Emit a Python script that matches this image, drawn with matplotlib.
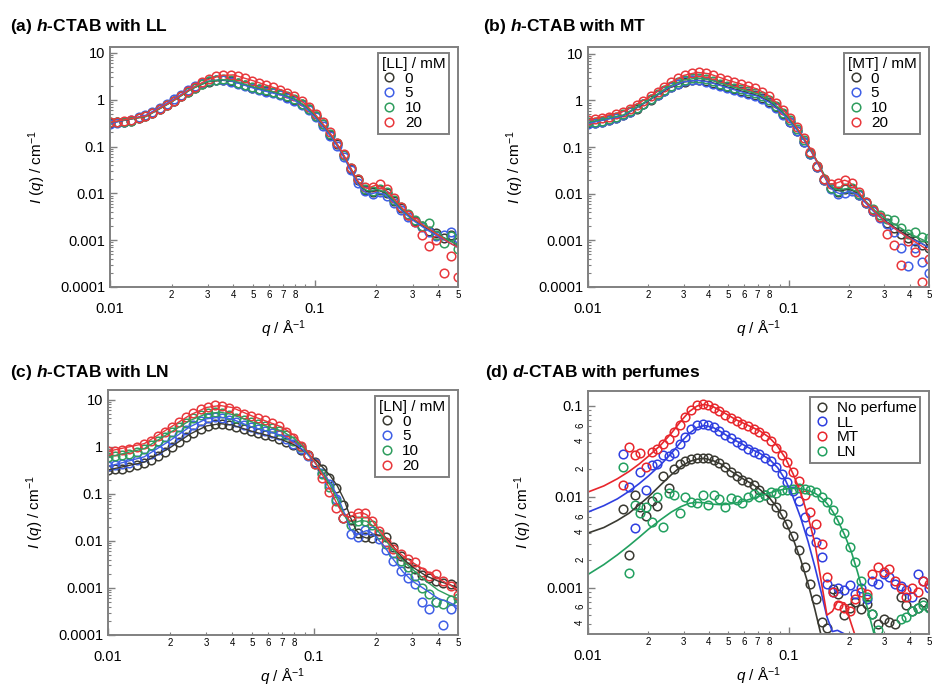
import numpy as np
import matplotlib
matplotlib.use("Agg")
import matplotlib.pyplot as plt
from matplotlib.ticker import LogLocator, FuncFormatter, NullFormatter
from matplotlib.lines import Line2D

plt.rcParams['font.family'] = ['Liberation Sans', 'DejaVu Sans']
plt.rcParams['mathtext.fontset'] = 'custom'
plt.rcParams['mathtext.rm'] = 'Liberation Sans'
plt.rcParams['mathtext.it'] = 'Liberation Sans:italic'
plt.rcParams['mathtext.bf'] = 'Liberation Sans:bold'
plt.rcParams['mathtext.bfit'] = 'Liberation Sans:italic:bold'

# ---- data: h-CTAB panels (a)-(c), q in 1/A, I in 1/cm ----
q_abc = [0.0100, 0.0108, 0.0117, 0.0127, 0.0138, 0.0149, 0.0161, 0.0175, 0.0189, 0.0205,
         0.0222, 0.0240, 0.0260, 0.0282, 0.0305, 0.0331, 0.0358, 0.0388, 0.0420, 0.0455,
         0.0493, 0.0534, 0.0578, 0.0626, 0.0678, 0.0734, 0.0795, 0.0861, 0.0933, 0.1010,
         0.1094, 0.1185, 0.1284, 0.1390, 0.1506, 0.1631, 0.1766, 0.1913, 0.2072, 0.2244,
         0.2431, 0.2633, 0.2852, 0.3089, 0.3345, 0.3623, 0.3924, 0.4250, 0.4604, 0.4986]

conc_labels = ['0', '5', '10', '20']

# (a) LL
a_0 = [0.32, 0.33, 0.34, 0.36, 0.40, 0.45, 0.52, 0.62, 0.76, 0.95,
       1.18, 1.48, 1.82, 2.15, 2.45, 2.62, 2.62, 2.48, 2.25, 2.02,
       1.82, 1.68, 1.56, 1.44, 1.32, 1.17, 1.00, 0.82, 0.63, 0.45,
       0.30, 0.18, 0.115, 0.066, 0.034, 0.019, 0.012, 0.0105, 0.012, 0.010,
       0.0069, 0.0048, 0.0034, 0.0026, 0.0020, 0.0016, 0.0014, 0.0011, 0.0013, 0.0009]
a_5 = [0.31, 0.32, 0.34, 0.37, 0.42, 0.48, 0.56, 0.67, 0.82, 1.02,
       1.28, 1.60, 1.95, 2.30, 2.55, 2.70, 2.65, 2.45, 2.20, 1.95,
       1.75, 1.61, 1.49, 1.37, 1.25, 1.10, 0.94, 0.77, 0.59, 0.42,
       0.28, 0.17, 0.105, 0.060, 0.031, 0.017, 0.011, 0.0095, 0.0105, 0.0090,
       0.0063, 0.0044, 0.0032, 0.0024, 0.0019, 0.0015, 0.0012, 0.0013, 0.0015, 0.0011]
a_10 = [0.33, 0.33, 0.34, 0.36, 0.40, 0.45, 0.52, 0.62, 0.76, 0.95,
        1.18, 1.48, 1.82, 2.18, 2.50, 2.70, 2.72, 2.58, 2.33, 2.08,
        1.88, 1.73, 1.60, 1.48, 1.35, 1.20, 1.02, 0.83, 0.64, 0.46,
        0.31, 0.19, 0.118, 0.067, 0.035, 0.020, 0.0125, 0.011, 0.0125, 0.0105,
        0.0072, 0.0050, 0.0036, 0.0027, 0.0020, 0.0023, 0.0013, 0.00085, 0.0012, 0.00065]
a_20 = [0.33, 0.34, 0.35, 0.37, 0.41, 0.46, 0.53, 0.63, 0.77, 0.96,
        1.20, 1.52, 1.90, 2.35, 2.80, 3.20, 3.45, 3.45, 3.20, 2.85,
        2.50, 2.25, 2.05, 1.85, 1.65, 1.42, 1.18, 0.92, 0.70, 0.50,
        0.33, 0.20, 0.12, 0.068, 0.035, 0.020, 0.0135, 0.0135, 0.0155, 0.0125,
        0.0080, 0.0050, 0.0035, 0.0024, 0.0013, 0.00075, 0.0010, 0.00020, 0.00045, 0.00016]

# (b) MT
b_0 = [0.33, 0.33, 0.35, 0.38, 0.42, 0.48, 0.56, 0.67, 0.82, 1.02,
       1.28, 1.58, 1.92, 2.25, 2.52, 2.70, 2.72, 2.58, 2.35, 2.10,
       1.90, 1.74, 1.60, 1.46, 1.30, 1.12, 0.92, 0.71, 0.51, 0.35,
       0.22, 0.13, 0.070, 0.037, 0.020, 0.013, 0.011, 0.0125, 0.0125, 0.0095,
       0.0063, 0.0043, 0.0031, 0.0023, 0.0018, 0.0014, 0.0011, 0.00095, 0.0008, 0.0007]
b_5 = [0.32, 0.33, 0.35, 0.38, 0.42, 0.48, 0.56, 0.68, 0.84, 1.05,
       1.32, 1.62, 1.97, 2.30, 2.55, 2.70, 2.68, 2.52, 2.28, 2.03,
       1.83, 1.67, 1.53, 1.40, 1.25, 1.07, 0.88, 0.68, 0.49, 0.34,
       0.22, 0.13, 0.072, 0.038, 0.020, 0.0125, 0.010, 0.0105, 0.0115, 0.0092,
       0.0062, 0.0042, 0.0030, 0.0022, 0.0015, 0.0007, 0.00028, 0.0007, 0.00035, 0.0002]
b_10 = [0.34, 0.35, 0.37, 0.40, 0.44, 0.50, 0.58, 0.70, 0.86, 1.07,
        1.35, 1.68, 2.05, 2.45, 2.78, 2.98, 3.00, 2.85, 2.58, 2.30,
        2.07, 1.89, 1.74, 1.59, 1.42, 1.22, 1.00, 0.77, 0.55, 0.38,
        0.24, 0.14, 0.076, 0.040, 0.021, 0.0135, 0.0115, 0.013, 0.013, 0.0100,
        0.0068, 0.0047, 0.0035, 0.0029, 0.0027, 0.0018, 0.0014, 0.0015, 0.0012, 0.0011]
b_20 = [0.38, 0.40, 0.42, 0.45, 0.50, 0.57, 0.66, 0.80, 0.98, 1.22,
        1.55, 1.95, 2.45, 3.00, 3.50, 3.90, 4.05, 3.90, 3.50, 3.05,
        2.70, 2.45, 2.25, 2.05, 1.82, 1.55, 1.22, 0.90, 0.62, 0.42,
        0.27, 0.155, 0.080, 0.040, 0.021, 0.016, 0.017, 0.0195, 0.017, 0.011,
        0.0068, 0.0045, 0.0032, 0.0014, 0.0008, 0.00030, 0.00095, 0.00055, 0.00013, 0.00040]

# (c) LN
c_0 = [0.32, 0.33, 0.34, 0.37, 0.41, 0.46, 0.53, 0.64, 0.78, 0.98,
       1.24, 1.58, 1.98, 2.42, 2.80, 3.05, 3.08, 2.90, 2.62, 2.35,
       2.12, 1.95, 1.80, 1.65, 1.48, 1.28, 1.06, 0.85, 0.65, 0.48,
       0.34, 0.22, 0.13, 0.058, 0.028, 0.015, 0.012, 0.0115, 0.014, 0.012,
       0.0075, 0.0048, 0.0034, 0.0025, 0.0019, 0.0016, 0.0014, 0.0013, 0.0012, 0.0011]
c_5 = [0.38, 0.40, 0.42, 0.46, 0.52, 0.60, 0.71, 0.87, 1.08, 1.38,
       1.78, 2.30, 2.90, 3.50, 4.00, 4.25, 4.15, 3.75, 3.30, 2.90,
       2.60, 2.37, 2.18, 1.98, 1.74, 1.46, 1.16, 0.88, 0.63, 0.44,
       0.28, 0.16, 0.078, 0.030, 0.014, 0.012, 0.017, 0.016, 0.011, 0.0065,
       0.0038, 0.0023, 0.0016, 0.0012, 0.0005, 0.00035, 0.00050, 0.00016, 0.00035, 0.00045]
c_10 = [0.60, 0.62, 0.65, 0.70, 0.78, 0.90, 1.06, 1.30, 1.62, 2.05,
        2.60, 3.25, 4.00, 4.70, 5.20, 5.40, 5.20, 4.70, 4.15, 3.70,
        3.35, 3.05, 2.80, 2.50, 2.15, 1.75, 1.35, 0.98, 0.67, 0.43,
        0.26, 0.14, 0.070, 0.030, 0.022, 0.027, 0.027, 0.022, 0.014, 0.0085,
        0.0055, 0.0038, 0.0028, 0.0018, 0.0010, 0.00075, 0.0005, 0.00045, 0.00055, 0.0006]
c_20 = [0.80, 0.82, 0.85, 0.90, 1.00, 1.15, 1.35, 1.65, 2.05, 2.60,
        3.30, 4.20, 5.30, 6.30, 7.10, 7.50, 7.30, 6.60, 5.70, 5.00,
        4.50, 4.10, 3.70, 3.25, 2.70, 2.10, 1.55, 1.05, 0.68, 0.42,
        0.22, 0.11, 0.050, 0.031, 0.033, 0.040, 0.039, 0.027, 0.016, 0.0095,
        0.0068, 0.0052, 0.0042, 0.0035, 0.0022, 0.0018, 0.0020, 0.0014, 0.0011, 0.0007]

# model fits for (a)-(c)
q_fit = [0.010, 0.015, 0.020, 0.025, 0.030, 0.035, 0.040, 0.050, 0.060, 0.070,
         0.080, 0.090, 0.100, 0.110, 0.120, 0.130, 0.140, 0.150, 0.160, 0.170,
         0.180, 0.190, 0.200, 0.220, 0.240, 0.270, 0.300, 0.350, 0.400, 0.450, 0.500]
fit_a_0 = [0.32, 0.44, 0.90, 1.70, 2.42, 2.63, 2.45, 1.83, 1.50, 1.27, 1.02, 0.72, 0.46, 0.28, 0.17,
           0.10, 0.058, 0.033, 0.019, 0.013, 0.011, 0.0108, 0.0118, 0.0105, 0.0072, 0.0042, 0.0028,
           0.0018, 0.0013, 0.0010, 0.0008]
fit_a_5 = [0.31, 0.47, 0.97, 1.80, 2.50, 2.68, 2.45, 1.78, 1.45, 1.22, 0.96, 0.67, 0.43, 0.26, 0.16,
           0.095, 0.054, 0.030, 0.017, 0.012, 0.010, 0.0098, 0.0105, 0.0095, 0.0067, 0.0040, 0.0027,
           0.0017, 0.0012, 0.0009, 0.0007]
fit_a_10 = [0.33, 0.44, 0.90, 1.70, 2.45, 2.70, 2.55, 1.90, 1.55, 1.30, 1.04, 0.73, 0.47, 0.29, 0.175,
            0.103, 0.059, 0.034, 0.020, 0.0135, 0.0115, 0.0113, 0.0122, 0.0108, 0.0075, 0.0044, 0.0029,
            0.0019, 0.0013, 0.0010, 0.0008]
fit_a_20 = [0.33, 0.45, 0.92, 1.75, 2.70, 3.30, 3.40, 2.55, 1.95, 1.58, 1.20, 0.80, 0.50, 0.30, 0.18,
            0.105, 0.060, 0.034, 0.020, 0.014, 0.0128, 0.014, 0.0152, 0.0125, 0.0082, 0.0046, 0.0030,
            0.0019, 0.0013, 0.0009, 0.0007]
fit_b_0 = [0.33, 0.47, 0.98, 1.80, 2.48, 2.72, 2.53, 1.92, 1.53, 1.28, 0.95, 0.63, 0.40, 0.24, 0.14,
           0.080, 0.045, 0.025, 0.015, 0.012, 0.0115, 0.012, 0.0125, 0.0105, 0.0068, 0.0040, 0.0027,
           0.0017, 0.0012, 0.0009, 0.0007]
fit_b_5 = [0.32, 0.47, 1.00, 1.85, 2.52, 2.70, 2.48, 1.85, 1.47, 1.23, 0.91, 0.60, 0.38, 0.23, 0.135,
           0.077, 0.043, 0.024, 0.014, 0.011, 0.010, 0.0105, 0.0113, 0.0097, 0.0065, 0.0038, 0.0026,
           0.0016, 0.0011, 0.0009, 0.0007]
fit_b_10 = [0.34, 0.49, 1.02, 1.95, 2.75, 3.00, 2.80, 2.08, 1.66, 1.38, 1.03, 0.67, 0.42, 0.25, 0.145,
            0.082, 0.046, 0.026, 0.016, 0.0125, 0.012, 0.0127, 0.013, 0.011, 0.0072, 0.0043, 0.0030,
            0.0020, 0.0014, 0.0011, 0.0009]
fit_b_20 = [0.38, 0.58, 1.15, 2.25, 3.45, 4.00, 3.75, 2.70, 2.15, 1.75, 1.25, 0.78, 0.46, 0.26, 0.15,
            0.082, 0.045, 0.024, 0.016, 0.0165, 0.018, 0.0195, 0.018, 0.012, 0.0070, 0.0040, 0.0026,
            0.0016, 0.0011, 0.0008, 0.0006]
fit_c_0 = [0.32, 0.47, 0.95, 1.85, 2.75, 3.08, 2.90, 2.12, 1.72, 1.40, 1.10, 0.80, 0.55, 0.37, 0.24,
           0.145, 0.075, 0.032, 0.017, 0.0125, 0.0115, 0.012, 0.0135, 0.0125, 0.0080, 0.0042, 0.0028,
           0.0018, 0.0014, 0.0012, 0.0010]
fit_c_5 = [0.38, 0.61, 1.35, 2.65, 3.90, 4.25, 3.85, 2.60, 2.10, 1.72, 1.25, 0.80, 0.48, 0.29, 0.17,
           0.090, 0.040, 0.018, 0.013, 0.015, 0.0165, 0.015, 0.012, 0.0075, 0.0043, 0.0022, 0.0014,
           0.0009, 0.0006, 0.0005, 0.0004]
fit_c_10 = [0.60, 0.91, 2.00, 3.60, 5.00, 5.40, 4.85, 3.35, 2.65, 2.15, 1.50, 0.90, 0.50, 0.28, 0.15,
            0.075, 0.035, 0.023, 0.025, 0.027, 0.026, 0.022, 0.018, 0.011, 0.0068, 0.0038, 0.0025,
            0.0014, 0.0009, 0.0007, 0.0006]
fit_c_20 = [0.80, 1.16, 2.55, 4.70, 6.80, 7.50, 6.80, 4.50, 3.35, 2.60, 1.75, 0.98, 0.50, 0.25, 0.12,
            0.058, 0.034, 0.032, 0.038, 0.040, 0.036, 0.028, 0.021, 0.012, 0.0075, 0.0048, 0.0035,
            0.0023, 0.0016, 0.0012, 0.0009]

# ---- data: d-CTAB panel (d) ----
q_d = [0.0150, 0.0160, 0.0171, 0.0182, 0.0194, 0.0208, 0.0221, 0.0236, 0.0252, 0.0269,
       0.0287, 0.0306, 0.0327, 0.0349, 0.0372, 0.0397, 0.0424, 0.0452, 0.0483, 0.0515,
       0.0550, 0.0587, 0.0626, 0.0668, 0.0713, 0.0761, 0.0812, 0.0866, 0.0924, 0.0986,
       0.1053, 0.1123, 0.1199, 0.1279, 0.1365, 0.1457, 0.1554, 0.1659, 0.1770, 0.1889,
       0.2015, 0.2151, 0.2295, 0.2449, 0.2613, 0.2789, 0.2976, 0.3176, 0.3389, 0.3616,
       0.3859, 0.4118, 0.4394, 0.4689, 0.5004]
perfume_labels = ['No perfume', 'LL', 'MT', 'LN']
d_none = [0.0073, 0.0023, 0.0105, 0.0078, 0.0062, 0.0090, 0.0080, 0.0170, 0.0125, 0.0200,
          0.0230, 0.0245, 0.0260, 0.0270, 0.0270, 0.0265, 0.0255, 0.0235, 0.0215, 0.0190,
          0.0170, 0.0155, 0.0145, 0.0135, 0.0120, 0.0105, 0.0092, 0.0078, 0.0064, 0.0050,
          0.0037, 0.0026, 0.0017, 0.0011, 0.00075, 0.00042, 0.00036, 0.00098, 0.00085, 0.00050,
          0.00060, 0.00070, 0.00058, 0.00066, 0.00052, 0.00040, 0.00045, 0.00042, 0.00040, 0.00080,
          0.00065, 0.00055, 0.00060, 0.00070, 0.00062]
d_ll = [0.0297, 0.0129, 0.0045, 0.0190, 0.0119, 0.0225, 0.0230, 0.0290, 0.0285, 0.0300,
        0.0380, 0.0460, 0.0560, 0.0620, 0.0640, 0.0620, 0.0580, 0.0530, 0.0480, 0.0440,
        0.0400, 0.0370, 0.0340, 0.0315, 0.0295, 0.0270, 0.0245, 0.0215, 0.0180, 0.0145,
        0.0115, 0.0090, 0.0060, 0.0042, 0.0032, 0.0022, 0.0011, 0.00090, 0.00100, 0.00095,
        0.00108, 0.00085, 0.00100, 0.00075, 0.00120, 0.00110, 0.00140, 0.00130, 0.00110, 0.00105,
        0.00095, 0.00080, 0.00140, 0.00120, 0.00100]
d_mt = [0.0136, 0.0357, 0.0290, 0.0300, 0.0215, 0.0310, 0.0340, 0.0380, 0.0430, 0.0520,
        0.0620, 0.0750, 0.0900, 0.1020, 0.1060, 0.1030, 0.0960, 0.0880, 0.0800, 0.0740,
        0.0680, 0.0630, 0.0600, 0.0560, 0.0520, 0.0470, 0.0410, 0.0345, 0.0290, 0.0240,
        0.0190, 0.0150, 0.0105, 0.0068, 0.0050, 0.0030, 0.0013, 0.0009, 0.00065, 0.00060,
        0.00055, 0.00075, 0.00090, 0.00085, 0.00140, 0.00170, 0.00150, 0.00160, 0.00120, 0.00100,
        0.00080, 0.00100, 0.00090, 0.00120, 0.00110]
d_ln = [0.0215, 0.00145, 0.0082, 0.0066, 0.0078, 0.0053, 0.0100, 0.0047, 0.0110, 0.0105,
        0.0066, 0.0100, 0.0088, 0.0085, 0.0105, 0.0082, 0.0105, 0.0095, 0.0078, 0.0098,
        0.0092, 0.0085, 0.0100, 0.0108, 0.0100, 0.0105, 0.0112, 0.0110, 0.0118, 0.0120,
        0.0122, 0.0125, 0.0122, 0.0118, 0.0112, 0.0100, 0.0088, 0.0072, 0.0055, 0.0040,
        0.0028, 0.0019, 0.0012, 0.00080, 0.00052, 0.00034, np.nan, np.nan, np.nan, 0.00045,
        0.00048, 0.00055, 0.00060, 0.00065, 0.00060]

q_fit_d = [0.010, 0.012, 0.014, 0.016, 0.018, 0.020, 0.023, 0.026, 0.029, 0.032,
           0.035, 0.038, 0.042, 0.046, 0.050, 0.055, 0.060, 0.066, 0.072, 0.080,
           0.088, 0.096, 0.105, 0.115, 0.125, 0.135, 0.145, 0.155, 0.165, 0.175,
           0.190, 0.205, 0.220, 0.240, 0.260, 0.280, 0.300]
fit_d_none = [0.0040, 0.0046, 0.0055, 0.0066, 0.0082, 0.0100, 0.0135, 0.0175, 0.0215, 0.0245,
              0.0260, 0.0265, 0.0250, 0.0230, 0.0200, 0.0175, 0.0155, 0.0138, 0.0120, 0.0098,
              0.0075, 0.0054, 0.0035, 0.0020, 0.0011, 0.00058, 0.00030, 0.00015, 0.00008, 0.00005,
              np.nan, np.nan, np.nan, np.nan, np.nan, np.nan, np.nan]
fit_d_ll = [0.0068, 0.0080, 0.0095, 0.0115, 0.0140, 0.0170, 0.0225, 0.0300, 0.0400, 0.0500,
            0.0580, 0.0610, 0.0580, 0.0520, 0.0460, 0.0410, 0.0370, 0.0330, 0.0300, 0.0260,
            0.0210, 0.0155, 0.0100, 0.0058, 0.0032, 0.0017, 0.0009, 0.00048, 0.00033, 0.00034,
            0.00031, 0.00025, 0.00018, np.nan, np.nan, np.nan, np.nan]
fit_d_mt = [0.0113, 0.0132, 0.0158, 0.0190, 0.0230, 0.0280, 0.0370, 0.0500, 0.0680, 0.0870,
            0.1000, 0.1040, 0.0980, 0.0880, 0.0790, 0.0700, 0.0640, 0.0580, 0.0530, 0.0450,
            0.0360, 0.0270, 0.0180, 0.0110, 0.0060, 0.0031, 0.0012, 0.00050, 0.00055, 0.00070,
            0.00068, 0.00040, 0.00025, np.nan, np.nan, np.nan, np.nan]
fit_d_ln = [0.0014, 0.0018, 0.0023, 0.0029, 0.0036, 0.0044, 0.0056, 0.0068, 0.0078, 0.0085,
            0.0087, 0.0086, 0.0083, 0.0082, 0.0083, 0.0086, 0.0090, 0.0096, 0.0102, 0.0110,
            0.0117, 0.0122, 0.0124, 0.0123, 0.0118, 0.0110, 0.0098, 0.0085, 0.0070, 0.0056,
            0.0038, 0.0025, 0.0015, 0.00075, 0.00038, 0.00020, np.nan]

# ---- style ----
c_black = '#3a3a32'
c_blue = '#3f5fe6'
c_green = '#2f9d5e'
c_red = '#e8383c'
series_colors = [c_black, c_blue, c_green, c_red]
d_colors = [c_black, '#2f3fe0', '#e8262c', '#22a060']
spine_col = '#808080'
MS = 6.2
MEW = 1.1


def minor_x(v, pos):
    e = np.floor(np.log10(v) + 1e-9)
    d = int(round(v / 10 ** e))
    if 2 <= d <= 8:
        return str(d)
    return ''


def minor_y_d(v, pos):
    e = np.floor(np.log10(v) + 1e-9)
    d = int(round(v / 10 ** e))
    if d in (2, 4, 6):
        return str(d)
    return ''


def style_axes(ax, ylim):
    ax.set_xscale('log')
    ax.set_yscale('log')
    ax.set_xlim(0.01, 0.5)
    ax.set_ylim(*ylim)
    ax.xaxis.set_major_locator(LogLocator(base=10, numticks=10))
    ax.xaxis.set_minor_locator(LogLocator(base=10, subs=np.arange(2, 10), numticks=20))
    ax.xaxis.set_major_formatter(FuncFormatter(lambda v, p: f'{v:g}'))
    ax.xaxis.set_minor_formatter(FuncFormatter(minor_x))
    ax.yaxis.set_major_locator(LogLocator(base=10, numticks=10))
    ax.yaxis.set_minor_locator(LogLocator(base=10, subs=np.arange(2, 10), numticks=20))
    ax.yaxis.set_major_formatter(FuncFormatter(lambda v, p: f'{v:g}'))
    ax.yaxis.set_minor_formatter(NullFormatter())
    ax.tick_params(which='both', direction='in', color=spine_col, top=False, right=False)
    ax.tick_params(which='major', length=5, width=1.0, labelsize=10.5)
    ax.tick_params(which='minor', length=2.5, width=0.8)
    ax.tick_params(axis='x', which='major', pad=11)
    ax.tick_params(axis='x', which='minor', pad=2, labelsize=7)
    for s in ax.spines.values():
        s.set_color(spine_col)
        s.set_linewidth(1.4)
    ax.set_xlabel(r'$q$ / Å$^{-1}$', fontsize=11, labelpad=2)
    ax.set_ylabel(r'$I$ ($q$) / cm$^{-1}$', fontsize=11, labelpad=9)


def add_legend(ax, labels, colors, title):
    handles = [Line2D([], [], ls='none', marker='o', ms=MS, mfc='none', mec=c, mew=MEW)
               for c in colors]
    leg = ax.legend(handles, labels, title=title, loc='upper right',
                    bbox_to_anchor=(0.975, 0.975), borderaxespad=0, fontsize=11,
                    title_fontsize=11, frameon=True, fancybox=False, framealpha=1,
                    edgecolor=spine_col, borderpad=0.25, labelspacing=0.05,
                    handletextpad=0.5, handlelength=1.0)
    leg.get_frame().set_linewidth(1.4)
    leg._legend_box.align = 'left'
    return leg


fig = plt.figure(figsize=(9.35, 6.95), dpi=100)
W, H = 935.0, 695.0


def axes_px(left, top, right, bottom):
    return fig.add_axes([left / W, 1 - bottom / H, (right - left) / W, (bottom - top) / H])


ax_a = axes_px(110, 47, 458, 287)
ax_b = axes_px(588, 47, 929, 287)
ax_c = axes_px(108, 390, 458, 635)
ax_d = axes_px(588, 391, 929, 634)

panels = [
    (ax_a, [a_0, a_5, a_10, a_20], [fit_a_0, fit_a_5, fit_a_10, fit_a_20], '[LL] / mM', (1e-4, 13.4)),
    (ax_b, [b_0, b_5, b_10, b_20], [fit_b_0, fit_b_5, fit_b_10, fit_b_20], '[MT] / mM', (1e-4, 14.0)),
    (ax_c, [c_0, c_5, c_10, c_20], [fit_c_0, fit_c_5, fit_c_10, fit_c_20], '[LN] / mM', (1e-4, 16.0)),
]

for ax, pts, fits, ltitle, ylim in panels:
    for vals, col in zip(pts, series_colors):
        ax.plot(q_abc, vals, ls='none', marker='o', ms=MS, mfc='none', mec=col, mew=MEW)
    for vals, col in zip(fits, series_colors):
        ax.plot(q_fit, vals, color=col, lw=1.0)
    style_axes(ax, ylim)
    add_legend(ax, conc_labels, series_colors, ltitle)

# panel (d)
for vals, col in zip([d_none, d_ll, d_mt, d_ln], d_colors):
    ax_d.plot(q_d, vals, ls='none', marker='o', ms=MS, mfc='none', mec=col, mew=MEW)
for vals, col in zip([fit_d_none, fit_d_ll, fit_d_mt, fit_d_ln], d_colors):
    ax_d.plot(q_fit_d, vals, color=col, lw=1.2)
style_axes(ax_d, (3.1e-4, 0.146))
ax_d.yaxis.set_minor_formatter(FuncFormatter(minor_y_d))
ax_d.tick_params(axis='y', which='minor', labelsize=7, labelrotation=90, pad=2)
add_legend(ax_d, perfume_labels, d_colors, None)

# panel titles
titles = [
    (10, 26, r'(a) $\mathbfit{h}$-CTAB with LL'),
    (483, 26, r'(b) $\mathbfit{h}$-CTAB with MT'),
    (10, 372, r'(c) $\mathbfit{h}$-CTAB with LN'),
    (485, 372, r'(d) $\mathbfit{d}$-CTAB with perfumes'),
]
for x, y, t in titles:
    fig.text(x / W, 1 - y / H, t, fontsize=12.5, fontweight='bold', ha='left', va='center')

fig.savefig('out.png', dpi=100)
